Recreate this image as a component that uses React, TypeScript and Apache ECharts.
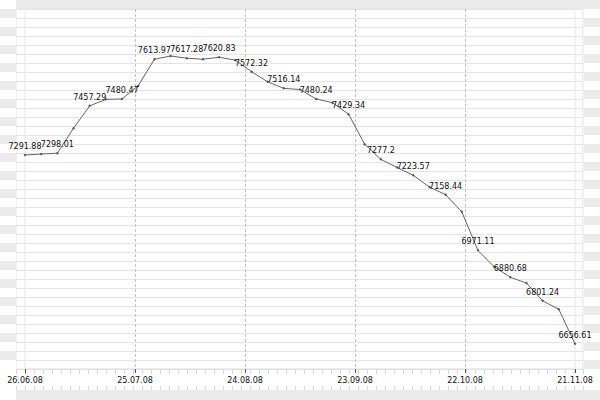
import React, { useEffect, useRef } from 'react';
import * as echarts from 'echarts';

// Date tick labels along the bottom axis
const tickLabels = ['26.06.08', '25.07.08', '24.08.08', '23.09.08', '22.10.08', '21.11.08'];

// Index values (35 evenly spaced observations)
const indexValues = [
  7291.88, 7295, 7298.01, 7382, 7457.29, 7479, 7480.47, 7525, 7613.97, 7625,
  7617.28, 7614, 7620.83, 7611, 7572.32, 7538, 7516.14, 7512, 7480.24, 7468,
  7429.34, 7328, 7277.2, 7250, 7223.57, 7184, 7158.44, 7101, 6971.11, 6916,
  6880.68, 6861, 6801.24, 6773, 6656.61,
];

const yMin = 6572;
const yMax = 7783;

const FONT = 'DejaVu Sans';
const BAND = '#ebebeb';
const GRIDLINE = '#e5e5e5';

export default function App() {
  const ref = useRef<HTMLDivElement>(null);

  useEffect(() => {
    const chart = echarts.init(ref.current!, null, { renderer: 'svg' });
    const pointIdx = indexValues.map((_, i) => String(i));

    chart.setOption({
      animation: false,
      backgroundColor: '#ffffff',
      graphic: [
        { type: 'rect', left: 16, top: 0, shape: { width: 584, height: 9 }, style: { fill: BAND }, z: -10 },
        { type: 'rect', left: 16, top: 390, shape: { width: 584, height: 10 }, style: { fill: BAND }, z: -10 },
      ],
      grid: [
        { left: 16, top: 9, width: 567, height: 360, show: true, backgroundColor: '#ffffff', borderColor: GRIDLINE, borderWidth: 1 },
        { left: 25, top: 9, width: 550, height: 360, show: true, backgroundColor: 'transparent', borderColor: GRIDLINE, borderWidth: 1 },
        { left: 0, top: 0, width: 16, height: 369 },
        { left: 584, top: 9, width: 16, height: 360 },
      ],
      xAxis: [
        {
          gridIndex: 0, type: 'value', position: 'top', min: 0, max: 63, interval: 1,
          axisLine: { show: false }, axisLabel: { show: false }, splitLine: { show: false },
          axisTick: { show: true, inside: true, length: 5, lineStyle: { color: '#d8d8d8' } },
        },
        {
          gridIndex: 0, type: 'value', position: 'bottom', offset: 21, min: 0, max: 63, interval: 1,
          axisLine: { show: false }, axisLabel: { show: false }, splitLine: { show: false },
          axisTick: { show: true, inside: true, length: 4, lineStyle: { color: '#d8d8d8' } },
        },
        {
          gridIndex: 1, type: 'category', position: 'top', data: pointIdx, boundaryGap: false, show: false,
        },
        {
          gridIndex: 1, type: 'value', position: 'bottom', min: 0, max: tickLabels.length - 1, interval: 1,
          axisLine: { show: false },
          axisTick: { show: true, length: 4, lineStyle: { color: '#555' } },
          axisLabel: {
            show: true, margin: 7, fontSize: 8, fontFamily: FONT, color: '#111',
            showMinLabel: true, showMaxLabel: true,
            formatter: (v: number) => tickLabels[Math.round(v)] ?? '',
          },
          splitLine: {
            show: true, showMinLine: false, showMaxLine: false,
            lineStyle: { color: '#c4c4c4', type: [3, 2], width: 1 },
          },
        },
        { gridIndex: 2, type: 'value', show: false },
        { gridIndex: 3, type: 'value', show: false },
      ],
      yAxis: [
        {
          gridIndex: 0, type: 'value', min: 0, max: 40, interval: 1,
          axisLine: { show: false }, axisTick: { show: false }, axisLabel: { show: false },
          splitLine: { show: true, lineStyle: { color: GRIDLINE, width: 1 } },
        },
        { gridIndex: 1, type: 'value', min: yMin, max: yMax, show: false },
        {
          gridIndex: 2, type: 'value', min: 0, max: 41, interval: 1,
          axisLine: { show: false }, axisTick: { show: false }, axisLabel: { show: false },
          splitLine: { show: false },
          splitArea: { show: true, areaStyle: { color: ['#ffffff', BAND] } },
        },
        {
          gridIndex: 3, type: 'value', min: 0, max: 40, interval: 1,
          axisLine: { show: false }, axisTick: { show: false }, axisLabel: { show: false },
          splitLine: { show: false },
          splitArea: { show: true, areaStyle: { color: [BAND, '#ffffff'] } },
        },
      ],
      series: [
        {
          type: 'line',
          xAxisIndex: 2,
          yAxisIndex: 1,
          data: indexValues.map((v, i) => ({ value: v, label: { show: i % 2 === 0 } })),
          symbol: 'diamond',
          symbolSize: 3,
          showAllSymbol: true,
          itemStyle: { color: '#5a5a5a' },
          lineStyle: { color: '#666666', width: 1 },
          label: {
            position: 'top', distance: 3, fontSize: 8, fontFamily: FONT, color: '#111',
            formatter: (p: any) => String(p.value),
          },
          z: 5,
        },
      ],
    });

    return () => chart.dispose();
  }, []);

  return <div ref={ref} style={{ position: 'fixed', left: 0, top: 0, width: 600, height: 400 }} />;
}
